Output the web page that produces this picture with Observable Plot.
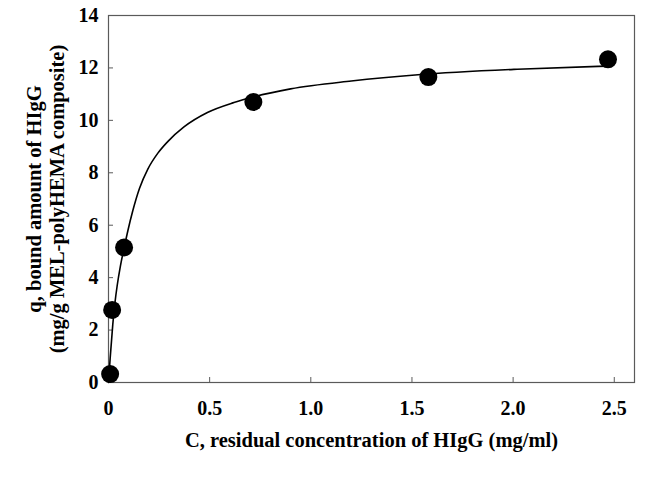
<!DOCTYPE html>
<html>
<head>
<meta charset="utf-8">
<script src="https://cdn.jsdelivr.net/npm/d3@7"></script>
<script src="https://cdn.jsdelivr.net/npm/@observablehq/plot@0.6"></script>
<style>
  html, body { margin: 0; padding: 0; background: #fff; }
  #chart svg { display: block; }
</style>
</head>
<body>
<div id="chart"></div>
<script>
// Measured points
const concentration = [0.008, 0.018, 0.077, 0.716, 1.581, 2.469];
const boundAmount = [0.32, 2.77, 5.15, 10.7, 11.65, 12.33];

// Fitted curve
const curveC = [0, 0.008, 0.021, 0.032, 0.043, 0.059, 0.079, 0.096, 0.12, 0.153, 0.195, 0.244, 0.294, 0.373, 0.489, 0.62, 0.72, 0.90, 1.2, 1.53, 2.02, 2.42, 2.47];
const curveQ = [0, 0.9, 2.2, 3.05, 3.7, 4.45, 5.2, 5.8, 6.55, 7.4, 8.15, 8.75, 9.2, 9.75, 10.3, 10.68, 10.9, 11.2, 11.5, 11.74, 11.95, 12.06, 12.07];

const xTicks = [0, 0.5, 1.0, 1.5, 2.0, 2.5];
const yTicks = [0, 2, 4, 6, 8, 10, 12, 14];

const xTitle = "C, residual concentration of HIgG (mg/ml)";
const yTitle = "q, bound amount of HIgG\n(mg/g MEL-polyHEMA composite)";

const points = concentration.map((c, i) => ({c, q: boundAmount[i]}));
const curve = curveC.map((c, i) => ({c, q: curveQ[i]}));

const font = "Liberation Serif, Times New Roman, serif";
const axisColor = "#5a5a5a";

const chart = Plot.plot({
  width: 651,
  height: 477,
  marginLeft: 108,
  marginRight: 17,
  marginTop: 15,
  marginBottom: 95,
  style: {fontFamily: font, fontWeight: "bold", fontSize: "20px", color: "#000", background: "#fff"},
  x: {domain: [0, 2.6]},
  y: {domain: [0, 14]},
  marks: [
    Plot.frame({stroke: axisColor, strokeWidth: 1.2}),
    Plot.axisX({ticks: xTicks, tickSize: 0, tickPadding: 18, label: null,
      tickFormat: d => d === 0 ? "0" : d.toFixed(1), fontSize: 20, fontWeight: "bold", fill: "#000"}),
    Plot.axisX({ticks: xTicks, tickSize: -5, text: null, label: null, stroke: axisColor}),
    Plot.axisY({ticks: yTicks, tickSize: 0, tickPadding: 10, label: null,
      tickFormat: d => String(d), fontSize: 20, fontWeight: "bold", fill: "#000"}),
    Plot.axisY({ticks: yTicks, tickSize: -5, text: null, label: null, stroke: axisColor}),
    Plot.line(curve, {x: "c", y: "q", curve: "monotone-x", stroke: "#000", strokeWidth: 1.6}),
    Plot.dot(points, {x: "c", y: "q", r: 9, fill: "#000", stroke: "none"}),
    Plot.text([xTitle], {text: d => d, frameAnchor: "bottom", dy: 58, lineAnchor: "middle",
      textAnchor: "middle", fontSize: 20.5, fontWeight: "bold", fill: "#000"}),
    Plot.text([yTitle], {text: d => d, frameAnchor: "left", dx: -63.5, rotate: -90,
      textAnchor: "middle", lineAnchor: "middle", lineHeight: 1.15, fontSize: 20.5, fontWeight: "bold", fill: "#000"})
  ]
});
document.getElementById("chart").appendChild(chart);
</script>
</body>
</html>
